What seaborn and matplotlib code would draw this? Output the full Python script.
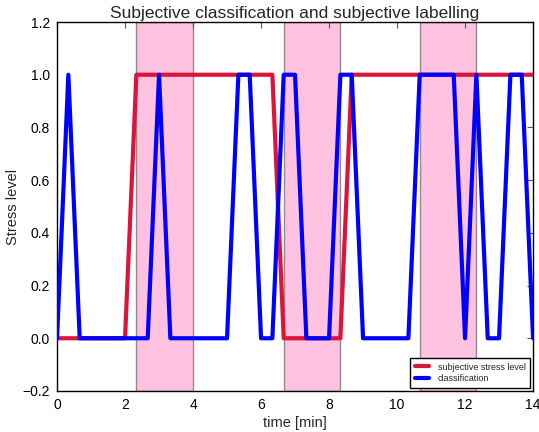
import numpy as np
import pandas as pd
import matplotlib
matplotlib.use("Agg")
import matplotlib.pyplot as plt
import seaborn as sns

# samples every 20 s (1/3 min)
time_min = np.arange(43) / 3.0
stress_level = [0, 0, 0, 0, 0, 0, 0, 1, 1, 1, 1, 1, 1, 1, 1, 1,
                1, 1, 1, 1, 0, 0, 0, 0, 0, 0, 1, 1, 1, 1, 1, 1,
                1, 1, 1, 1, 1, 1, 1, 1, 1, 1, 1]
classification = [0, 1, 0, 0, 0, 0, 0, 0, 0, 1, 0, 0, 0, 0, 0, 0,
                  1, 1, 0, 0, 1, 1, 0, 0, 0, 1, 1, 0, 0, 0, 0, 0,
                  1, 1, 1, 1, 0, 1, 0, 0, 1, 1, 0]
stress_windows = [(7 / 3, 12 / 3), (20 / 3, 25 / 3), (32 / 3, 37 / 3)]

df = pd.DataFrame({
    "time": np.concatenate([time_min, time_min]),
    "value": stress_level + classification,
    "series": ["subjective stress level"] * len(time_min) + ["classification"] * len(time_min),
})

sns.set_style("white")
plt.rcParams["font.family"] = ["Liberation Sans", "DejaVu Sans"]
plt.rcParams["axes.unicode_minus"] = True

fig = plt.figure(figsize=(5.39, 4.32), dpi=100)
ax = fig.add_axes([0.1058, 0.095, 0.8832, 0.854])

for start, end in stress_windows:
    ax.axvspan(start, end, facecolor="#ff69b4", edgecolor="black", alpha=0.4, linewidth=1, zorder=0)

sns.lineplot(data=df, x="time", y="value", hue="series",
             palette={"subjective stress level": "#dc143c", "classification": "#0000ff"},
             linewidth=3, ax=ax, zorder=3)

ax.set_xlim(0, 14)
ax.set_ylim(-0.2, 1.2)
ax.set_xticks(np.arange(0, 15, 2))
ax.set_yticks(np.arange(-0.2, 1.21, 0.2))
ax.set_yticklabels(["\u22120.2", "0.0", "0.2", "0.4", "0.6", "0.8", "1.0", "1.2"])
ax.tick_params(direction="in", length=4, width=0.8, top=True, right=True,
               labelsize=10, color="#555555", labelcolor="black", pad=5)
for spine in ax.spines.values():
    spine.set_color("black")
    spine.set_linewidth(1.0)

ax.set_xlabel("time [min]", fontsize=10.5, labelpad=3)
ax.set_ylabel("Stress level", fontsize=10.5, labelpad=2)
ax.set_title("Subjective classification and subjective labelling", fontsize=12.5, pad=3)

leg = ax.legend(loc="lower right", fontsize=6.5, handlelength=1.6, frameon=True,
                fancybox=False, borderpad=0.5, labelspacing=0.3, handletextpad=0.9,
                borderaxespad=0.35)
leg.get_frame().set_edgecolor("black")
leg.get_frame().set_linewidth(1.0)
leg.get_frame().set_alpha(1.0)

fig.savefig("out.png", dpi=100)
